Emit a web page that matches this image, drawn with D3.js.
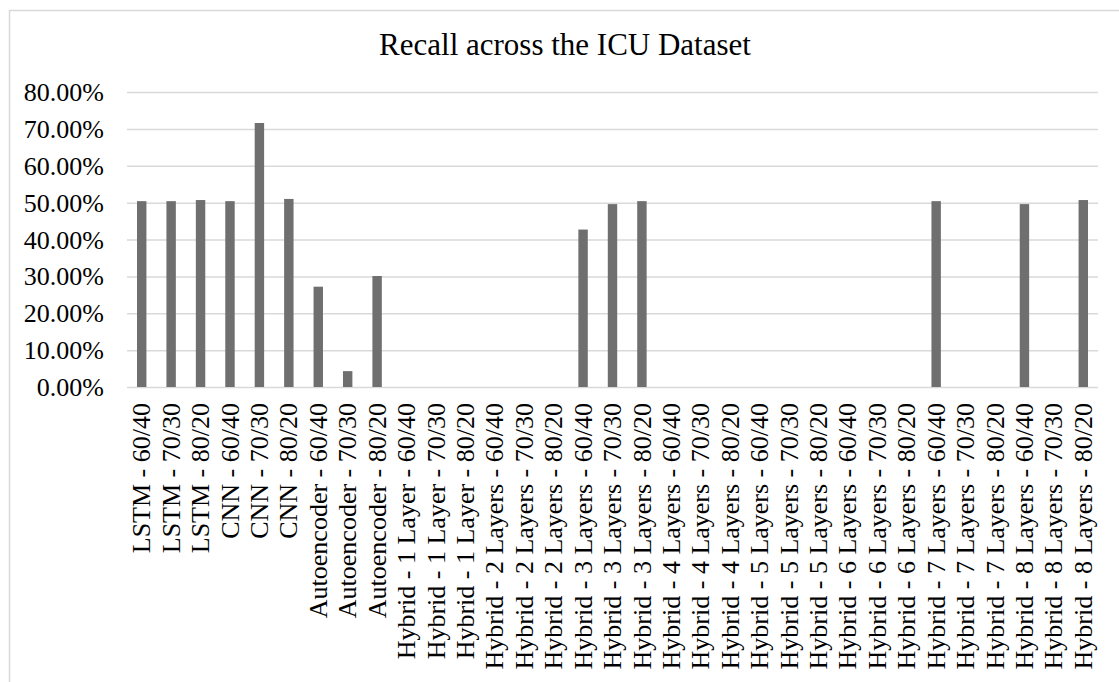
<!DOCTYPE html>
<html>
<head>
<meta charset="utf-8">
<script src="https://cdn.jsdelivr.net/npm/d3@7"></script>
<style>
	body { margin: 0; background: #fff; }
	text { font-family: "Liberation Serif", "Times New Roman", serif; fill: #000; }
</style>
</head>
<body>
<svg id="canvas"></svg>
<script>
var width = 1119,
	height = 682;

// chart data
var categories = [
	"LSTM - 60/40", "LSTM - 70/30", "LSTM - 80/20",
	"CNN - 60/40", "CNN - 70/30", "CNN - 80/20",
	"Autoencoder - 60/40", "Autoencoder - 70/30", "Autoencoder - 80/20",
	"Hybrid - 1 Layer - 60/40", "Hybrid - 1 Layer - 70/30", "Hybrid - 1 Layer - 80/20",
	"Hybrid - 2 Layers - 60/40", "Hybrid - 2 Layers - 70/30", "Hybrid - 2 Layers - 80/20",
	"Hybrid - 3 Layers - 60/40", "Hybrid - 3 Layers - 70/30", "Hybrid - 3 Layers - 80/20",
	"Hybrid - 4 Layers - 60/40", "Hybrid - 4 Layers - 70/30", "Hybrid - 4 Layers - 80/20",
	"Hybrid - 5 Layers - 60/40", "Hybrid - 5 Layers - 70/30", "Hybrid - 5 Layers - 80/20",
	"Hybrid - 6 Layers - 60/40", "Hybrid - 6 Layers - 70/30", "Hybrid - 6 Layers - 80/20",
	"Hybrid - 7 Layers - 60/40", "Hybrid - 7 Layers - 70/30", "Hybrid - 7 Layers - 80/20",
	"Hybrid - 8 Layers - 60/40", "Hybrid - 8 Layers - 70/30", "Hybrid - 8 Layers - 80/20"
];

var recall = [
	0.504, 0.504, 0.507,
	0.504, 0.716, 0.510,
	0.272, 0.043, 0.301,
	0, 0, 0,
	0, 0, 0,
	0.427, 0.496, 0.504,
	0, 0, 0,
	0, 0, 0,
	0, 0, 0,
	0.504, 0, 0,
	0.496, 0, 0.507
];

var yTicks = [0, 0.1, 0.2, 0.3, 0.4, 0.5, 0.6, 0.7, 0.8];

var title = "Recall across the ICU Dataset";

var svg = d3.select("#canvas")
	.attr("width", width)
	.attr("height", height);

// outer chart border (runs off right / bottom like the source)
svg.append("rect")
	.attr("x", 9.5)
	.attr("y", 10.5)
	.attr("width", width)
	.attr("height", height)
	.attr("fill", "none")
	.attr("stroke", "#d9d9d9")
	.attr("stroke-width", 1.5);

var plotLeft = 127, plotRight = 1098, plotTop = 92, plotBottom = 387;

var x = d3.scaleBand()
	.domain(categories)
	.range([plotLeft, plotRight])
	.paddingInner(0.68)
	.paddingOuter(0.34);

var y = d3.scaleLinear()
	.domain([0, 0.8])
	.range([plotBottom, plotTop]);

svg.append("text")
	.attr("x", 565)
	.attr("y", 55)
	.attr("text-anchor", "middle")
	.style("font-size", "31px")
	.text(title);

// y axis + gridlines
var yAxis = svg.append("g")
	.attr("transform", "translate(" + plotLeft + ",0)")
	.call(d3.axisLeft(y)
		.tickValues(yTicks)
		.tickFormat(d3.format(".2%"))
		.tickSize(-(plotRight - plotLeft))
		.tickPadding(23));

yAxis.select(".domain").remove();
yAxis.selectAll(".tick line")
	.attr("stroke", "#d9d9d9")
	.attr("stroke-width", 1.5);
yAxis.selectAll(".tick text")
	.style("font-size", "26px")
	.attr("dy", "0.33em");

// bars
svg.selectAll("rect.bar")
	.data(recall)
	.enter()
	.append("rect")
	.attr("class", "bar")
	.attr("x", function(d, i){ return x(categories[i]); })
	.attr("width", x.bandwidth())
	.attr("y", function(d){ return y(d); })
	.attr("height", function(d){ return y(0) - y(d); })
	.attr("fill", "#6f6f6f");

// x axis labels, rotated
var xAxis = svg.append("g")
	.attr("transform", "translate(0," + plotBottom + ")")
	.call(d3.axisBottom(x).tickSize(0).tickPadding(0));

xAxis.select(".domain").remove();
xAxis.selectAll(".tick text")
	.style("font-size", "26px")
	.attr("transform", "rotate(-90)")
	.attr("text-anchor", "end")
	.attr("x", -16)
	.attr("y", 0)
	.attr("dy", "0.33em");
</script>
</body>
</html>
